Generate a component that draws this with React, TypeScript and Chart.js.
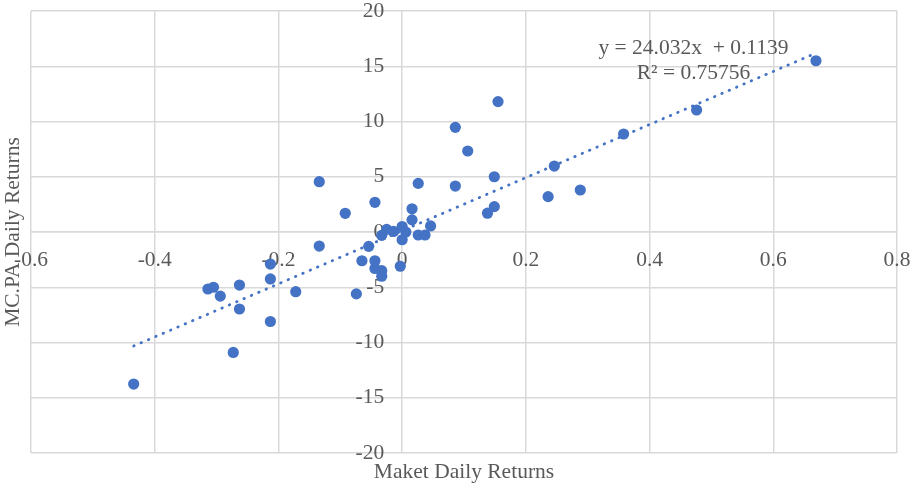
import { useEffect, useRef } from "react";
import { Chart, registerables } from "chart.js";
Chart.register(...registerables);

const marketReturns = [
  -0.434, -0.314, -0.305, -0.294, -0.263, -0.263, -0.273, -0.213, -0.213, -0.213,
  -0.172, -0.134, -0.134, -0.092, -0.074, -0.065, -0.054, -0.044, -0.044, -0.044,
  -0.033, -0.033, -0.003, -0.025, -0.014, 0.0, 0.0, 0.006, -0.033, 0.026,
  0.037, 0.016, 0.016, 0.046, 0.026, 0.086, 0.086, 0.106, 0.155, 0.149,
  0.149, 0.138, 0.246, 0.236, 0.288, 0.358, 0.476, 0.669,
];
const mcpaReturns = [
  -13.76, -5.16, -5.0, -5.8, -4.8, -6.97, -10.9, -2.9, -4.25, -8.1,
  -5.4, -1.27, 4.55, 1.69, -5.6, -2.6, -1.3, 2.69, -2.6, -3.3,
  -3.5, -4.0, -3.1, 0.24, 0.05, 0.5, -0.7, 0.0, -0.3, -0.27,
  -0.27, 2.1, 1.1, 0.55, 4.4, 9.47, 4.16, 7.33, 11.8, 5.0,
  2.3, 1.7, 5.97, 3.2, 3.8, 8.87, 11.04, 15.5,
];
const xTickLabels = ["-0.6", "-0.4", "-0.2", "0", "0.2", "0.4", "0.6", "0.8"];
const yTickLabels = ["-20", "-15", "-10", "-5", "0", "5", "10", "15", "20"];
const trendSlope = 24.032;
const trendIntercept = 0.1139;
const equationLines = ["y = 24.032x  + 0.1139", "R\u00B2 = 0.75756"];
const xAxisTitle = "Maket Daily Returns";
const yAxisTitle = "MC.PA Daily Returns";

const BLUE = "#4472C4";
const GRID = "#d9d9d9";
const TEXT = "#595959";
const FONT = "'Liberation Serif', 'Times New Roman', serif";
const FONT_SIZE = 21.5;

const findLabel = (labels: string[], v: number) =>
  labels.find((l) => Math.abs(Number(l) - v) < 1e-6) ?? "";

const equationPlugin = {
  id: "equationLabel",
  afterDatasetsDraw(chart: any) {
    const { ctx, scales } = chart;
    const x = scales.x.getPixelForValue(0.471);
    const y = scales.y.getPixelForValue(16.65);
    ctx.save();
    ctx.font = `${FONT_SIZE}px ${FONT}`;
    ctx.fillStyle = TEXT;
    ctx.textAlign = "center";
    ctx.textBaseline = "middle";
    equationLines.forEach((t, i) => ctx.fillText(t, x, y + i * 25));
    ctx.restore();
  },
};

export default function App() {
  const ref = useRef<HTMLCanvasElement | null>(null);
  useEffect(() => {
    if (!ref.current) return;
    const points = marketReturns.map((x, i) => ({ x, y: mcpaReturns[i] }));
    const xMin = Math.min(...marketReturns);
    const xMax = Math.max(...marketReturns);
    const trend = [
      { x: xMin, y: trendSlope * xMin + trendIntercept },
      { x: xMax, y: trendSlope * xMax + trendIntercept },
    ];
    const tickFont = { family: FONT, size: FONT_SIZE };
    const chart = new Chart(ref.current, {
      type: "scatter",
      data: {
        datasets: [
          {
            type: "line",
            data: trend,
            borderColor: BLUE,
            borderWidth: 2.8,
            borderDash: [0.5, 7.5],
            borderCapStyle: "round",
            pointRadius: 0,
            fill: false,
            order: 0,
          } as any,
          {
            type: "scatter",
            data: points,
            backgroundColor: BLUE,
            borderWidth: 0,
            pointRadius: 5.6,
            order: 1,
          },
        ],
      },
      options: {
        animation: false,
        responsive: false,
        layout: { padding: { top: 11, right: 22, left: 0, bottom: 0 } },
        plugins: { legend: { display: false }, tooltip: { enabled: false } },
        scales: {
          x: {
            type: "linear",
            position: { y: 0 } as any,
            min: -0.6,
            max: 0.8,
            ticks: {
              stepSize: 0.2,
              color: TEXT,
              font: tickFont,
              padding: 15,
              maxRotation: 0,
              callback: (v: any) => findLabel(xTickLabels, Number(v)),
            },
            grid: { color: GRID, lineWidth: 1.5, drawTicks: false },
            border: { display: true, color: GRID, width: 1.5 },
            afterFit: (s: any) => {
              s.height = 0;
              s.paddingLeft = 0;
              s.paddingRight = 0;
              s.paddingTop = 0;
              s.paddingBottom = 0;
            },
          },
          y: {
            type: "linear",
            position: { x: -0.029 } as any,
            min: -20,
            max: 20,
            ticks: {
              stepSize: 5,
              color: TEXT,
              font: tickFont,
              callback: (v: any) => findLabel(yTickLabels, Number(v)),
            },
            grid: { color: GRID, lineWidth: 1.5, drawTicks: false },
            border: { display: false },
            afterFit: (s: any) => {
              s.width = 0;
              s.paddingLeft = 0;
              s.paddingRight = 0;
              s.paddingTop = 0;
              s.paddingBottom = 0;
            },
          },
          xt: {
            type: "linear",
            axis: "x",
            position: "bottom",
            min: -0.6,
            max: 0.8,
            ticks: { display: false },
            grid: { display: false },
            border: { display: false },
            title: {
              display: true,
              text: xAxisTitle,
              color: TEXT,
              font: { family: FONT, size: FONT_SIZE },
              padding: { top: 0, bottom: 0 },
            },
            afterFit: (s: any) => {
              s.height = 32;
            },
          },
          yt: {
            type: "linear",
            axis: "y",
            position: "left",
            min: -20,
            max: 20,
            ticks: { display: false },
            grid: { display: false },
            border: { display: false },
            title: {
              display: true,
              text: yAxisTitle,
              color: TEXT,
              font: { family: FONT, size: FONT_SIZE },
              padding: { top: 0, bottom: 0 },
            },
            afterFit: (s: any) => {
              s.width = 31;
            },
          },
        } as any,
      },
      plugins: [equationPlugin],
    });
    return () => chart.destroy();
  }, []);
  return (
    <div style={{ position: "fixed", left: 0, top: 0, width: 919, height: 485, background: "#fff" }}>
      <canvas ref={ref} width={919} height={485} style={{ display: "block" }} />
    </div>
  );
}
